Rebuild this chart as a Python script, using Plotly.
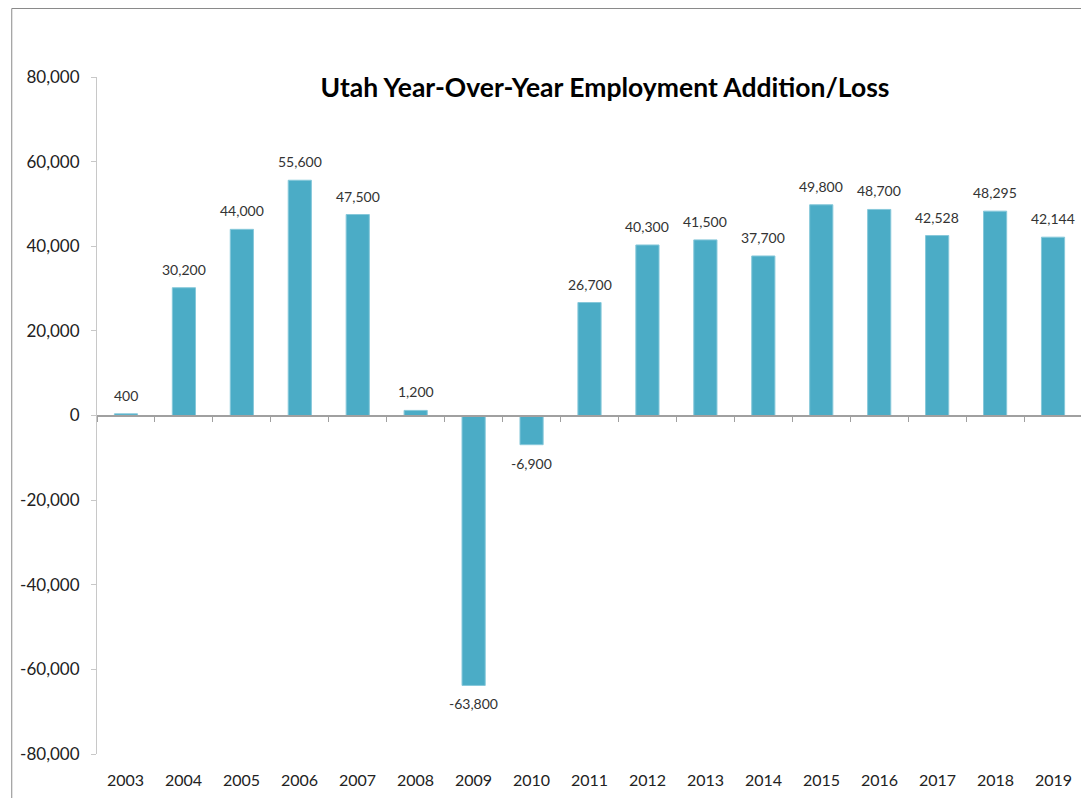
import plotly.graph_objects as go

# ---------------------------------------------------------------------------
# Data
# ---------------------------------------------------------------------------

years = [str(y) for y in range(2003, 2020)]
job_change = [400, 30200, 44000, 55600, 47500, 1200, -63800, -6900, 26700,
              40300, 41500, 37700, 49800, 48700, 42528, 48295, 42144]
y_ticks = [-80000, -60000, -40000, -20000, 0, 20000, 40000, 60000, 80000]

_BAR = "#4BACC6"
_FONT = "Lato"

# page body has an 8px margin, so figure coords = reference coords - 8
_L, _T, _R, _B = 86, 69, 1074, 746
_W, _H = 1089, 798

fig = go.Figure(
    go.Bar(
        x=years,
        y=job_change,
        marker=dict(color=_BAR, line=dict(color="#86c8da", width=1)),
        width=0.4,
        showlegend=False,
    )
)

# value labels, a little clear of the bar ends
for i, v in enumerate(job_change):
    fig.add_annotation(
        x=i, y=v, xref="x", yref="y",
        text=f"{v:,}", showarrow=False,
        yanchor="bottom" if v >= 0 else "top",
        yshift=8 if v >= 0 else -8,
        font=dict(family=_FONT, size=14, color="#333333"),
    )

# year labels along the bottom edge
for i, yr in enumerate(years):
    fig.add_annotation(
        x=i, y=0, xref="x", yref="paper",
        text=yr, showarrow=False, yanchor="top", yshift=-14,
        font=dict(family=_FONT, size=16, color="#222222"),
    )

fig.update_layout(
    width=_W,
    height=_H,
    plot_bgcolor="white",
    paper_bgcolor="white",
    margin=dict(t=_T, b=_H - _B, l=_L, r=_W - _R),
    title=dict(
        text="<b>Utah Year-Over-Year Employment Addition/Loss</b>",
        x=597 / _W, xanchor="center",
        y=1 - 80 / _H, yanchor="middle",
        font=dict(family=_FONT, size=26.5, color="#000000"),
    ),
    xaxis=dict(
        type="category",
        categoryarray=years,
        range=[-0.5, len(years) - 0.5],
        anchor="free",
        position=0.5,
        showline=True,
        linecolor="#a0a0a0",
        linewidth=1.5,
        ticks="outside",
        tickson="boundaries",
        ticklen=6,
        tickcolor="#a0a0a0",
        showticklabels=False,
        showgrid=False,
        zeroline=False,
    ),
    yaxis=dict(
        range=[-80000, 80000],
        tickvals=y_ticks,
        ticktext=[f"{v:,}" for v in y_ticks],
        showline=True,
        linecolor="#c8c8c8",
        linewidth=1,
        ticks="outside",
        ticklen=5,
        tickcolor="#c8c8c8",
        showgrid=False,
        zeroline=False,
        ticklabelstandoff=8,
        tickfont=dict(family=_FONT, size=17, color="#222222"),
    ),
)

# outer chart frame
fig.add_shape(
    type="rect", xref="paper", yref="paper",
    x0=(0.5 - _L) / (_R - _L), x1=1.2,
    y0=-0.2, y1=1 + (_T - 0.5) / (_B - _T),
    line=dict(color="#8a8a8a", width=1), layer="below",
)

fig.write_html("out.html")
